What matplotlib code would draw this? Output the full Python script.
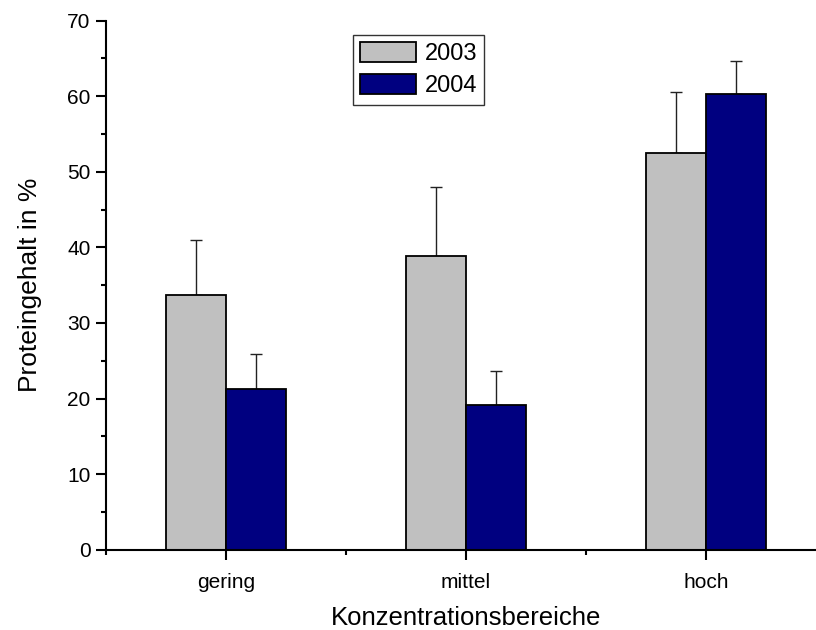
import matplotlib
matplotlib.use("Agg")
import matplotlib.pyplot as plt
import numpy as np
from matplotlib.ticker import MultipleLocator, FixedLocator

plt.rcParams['font.family'] = ['Liberation Sans', 'DejaVu Sans']

categories = ["gering", "mittel", "hoch"]
years = ["2003", "2004"]
values_2003 = [33.7, 38.9, 52.5]
errors_2003 = [7.3, 9.1, 8.0]
values_2004 = [21.3, 19.1, 60.3]
errors_2004 = [4.6, 4.5, 4.4]
colors = ["#C0C0C0", "#000080"]

fig = plt.figure(figsize=(8.16, 6.3), dpi=100)
ax = fig.add_axes([106 / 816, (630 - 549.7) / 630, 720 / 816, 529 / 630])

x = np.arange(len(categories))
width = 0.25
series = [(values_2003, errors_2003), (values_2004, errors_2004)]
for i, ((vals, errs), label, col) in enumerate(zip(series, years, colors)):
    pos = x + (i - 0.5) * width
    ax.bar(pos, vals, width, color=col, edgecolor="black", linewidth=1.3,
           label=label, zorder=2)
    ax.errorbar(pos, vals, yerr=[np.zeros(len(errs)), errs], fmt="none",
                ecolor="#222222", elinewidth=1.0, capsize=4, capthick=1.0,
                zorder=1)

ax.set_xlim(-0.5, 2.5)
ax.set_ylim(0, 70)
ax.set_xticks(x)
ax.set_xticklabels(categories, fontsize=15)
ax.xaxis.set_minor_locator(FixedLocator([-0.5, 0.5, 1.5, 2.5]))
ax.yaxis.set_major_locator(MultipleLocator(10))
ax.yaxis.set_minor_locator(MultipleLocator(5))
ax.tick_params(axis="y", labelsize=15)
ax.tick_params(which="major", direction="out", length=7, width=1.5, pad=4)
ax.tick_params(which="minor", direction="out", length=3.5, width=1.5)
ax.tick_params(axis="x", which="major", pad=10)

for side in ("top", "right"):
    ax.spines[side].set_visible(False)
for side in ("left", "bottom"):
    ax.spines[side].set_linewidth(1.5)

ax.set_xlabel("Konzentrationsbereiche", fontsize=18.5, labelpad=10)
ax.set_ylabel("Proteingehalt in %", fontsize=19, labelpad=18)

leg = ax.legend(loc="upper left", bbox_to_anchor=((352.7 - 106) / 720, (549.7 - 35) / 529),
                fontsize=17, frameon=True, fancybox=False, borderaxespad=0,
                handlelength=2.4, handleheight=0.9, handletextpad=0.35,
                borderpad=0.3, labelspacing=0.4)
leg.get_frame().set_edgecolor("black")
leg.get_frame().set_linewidth(1.0)

fig.savefig("out.png", dpi=100)
